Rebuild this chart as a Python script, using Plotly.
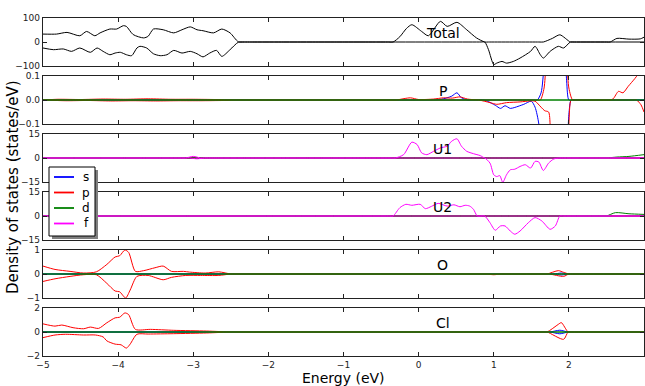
import plotly.graph_objects as go
from plotly.subplots import make_subplots

# ---------------- data (energy in eV, DOS in states/eV) ----------------
zero_e = [-5.0, 3.0]
zero_v = [0.0, 0.0]

# Total DOS
tot_up_e = [-5.0, -4.82, -4.68, -4.51, -4.42, -4.31, -4.24, -4.11, -4.02, -3.93, -3.89, -3.80,
            -3.66, -3.60, -3.53, -3.40, -3.26, -3.15, -3.04, -2.95, -2.87, -2.73, -2.62, -2.51,
            -2.40, -2.30, -2.25, -0.40, -0.34, -0.25, -0.16, -0.09, 0.04, 0.13, 0.29, 0.38,
            0.51, 0.64, 0.77, 0.88, 0.93, 1.60, 1.66, 1.78, 1.88, 2.02, 2.07, 2.50, 2.55, 2.64,
            2.80, 2.95, 3.0]
tot_up_v = [33, 33, 40, 26, 44, 26, 38, 54, 54, 68, 65, 31,
            17, 24, 54, 51, 38, 51, 63, 51, 47, 38, 54, 38,
            1, 0, 0, 0, 0, 22, 57, 72, 44, 26, 86, 65,
            82, 51, 17, 0, 0, 0, 0, 15, 30, 0, 0, 0, 0, 15,
            12, 13, 20]
tot_dn_e = [-5.0, -4.86, -4.73, -4.62, -4.51, -4.37, -4.28, -4.20, -4.11, -4.04, -3.97, -3.89,
            -3.82, -3.75, -3.71, -3.62, -3.53, -3.44, -3.35, -3.26, -3.15, -3.04, -2.95, -2.87,
            -2.78, -2.69, -2.62, -2.51, -2.40, -2.30, -2.25, 0.83, 0.88, 0.93, 1.00, 1.04, 1.11,
            1.17, 1.26, 1.35, 1.49, 1.55, 1.62, 1.66, 1.75, 1.86, 1.93, 2.02, 2.07, 3.0]
tot_dn_v = [-25, -32, -29, -39, -25, -43, -25, -39, -53, -46, -43, -53,
            -57, -25, -18, -25, -49, -57, -53, -35, -46, -39, -49, -62,
            -46, -35, -60, -32, -1, 0, 0, 0, 0, -32, -94, -88, -81,
            -88, -81, -67, -39, -18, -53, -67, -39, -18, -25, 0, 0, 0]

# P site
p_s_up_e = [-5.0, -0.25, -0.2, 0.3, 0.44, 0.51, 0.57, 0.65, 0.70, 1.53, 1.58, 1.63, 1.67, 1.72,
            1.82, 1.93, 1.97, 2.0, 2.05, 3.0]
p_s_up_v = [0, 0, 0, 0.003, 0.016, 0.030, 0.009, 0, 0, 0, 0, 0.03, 0.15, 0.5,
            0.7, 0.4, 0.08, 0, 0, 0]
p_s_dn_e = [-5.0, 0.80, 0.85, 0.91, 1.02, 1.09, 1.15, 1.22, 1.28, 1.40, 1.50, 1.55, 1.60, 1.65,
            1.80, 1.96, 2.0, 2.03, 2.08, 3.0]
p_s_dn_v = [0, 0, 0, -0.004, -0.022, -0.035, -0.024, -0.035, -0.031, -0.018, -0.005, -0.03,
            -0.1, -0.3, -0.5, -0.3, -0.06, 0, 0, 0]
p_p_up_e = [-5.0, -4.8, -4.5, -4.2, -3.9, -3.6, -3.3, -3.0, -2.7, -2.4, -2.35, -0.35, -0.3,
            -0.11, 0.0, 0.2, 0.33, 0.45, 0.55, 0.65, 0.8, 0.85, 1.57, 1.62, 1.67, 1.72, 1.85,
            1.95, 2.0, 2.05, 2.10, 2.50, 2.55, 2.59, 2.66, 2.72, 2.79, 2.88, 2.95, 3.0]
p_p_up_v = [0, 0.003, 0.002, 0.004, 0.003, 0.005, 0.003, 0.003, 0.002, 0, 0, 0, 0,
            0.009, 0.002, 0.004, 0.009, 0.008, 0.013, 0.004, 0, 0, 0, 0, 0.05, 0.3, 0.6,
            0.3, 0.05, 0, 0, 0, 0, 0.005, 0.036, 0.030, 0.057, 0.09, 0.12, 0.15]
p_p_dn_e = [-5.0, -4.7, -4.4, -4.1, -3.8, -3.5, -3.2, -2.9, -2.6, -2.4, -2.35, 0.75, 0.8, 0.95,
            1.04, 1.17, 1.35, 1.48, 1.55, 1.63, 1.68, 1.73, 1.76, 1.85, 1.97, 2.0, 2.03, 2.08,
            2.85, 2.9, 2.96, 3.0]
p_p_dn_v = [0, -0.003, -0.002, -0.004, -0.003, -0.004, -0.003, -0.003, -0.002, 0, 0, 0, 0,
            -0.011, -0.018, -0.011, -0.008, -0.004, -0.005, -0.03, -0.045, -0.05, -0.2, -0.4,
            -0.3, -0.1, 0, 0, 0, 0, -0.02, -0.05]

# U1 site
u1_f_up_e = [-5.0, -3.15, -3.1, -3.0, -2.9, -2.85, -0.36, -0.31, -0.2, -0.09, -0.02, 0.04, 0.11,
             0.2, 0.29, 0.38, 0.44, 0.51, 0.57, 0.64, 0.73, 0.82, 0.88, 0.93, 3.0]
u1_f_up_v = [0, 0, 0, 1.0, 0, 0, 0, 0, 2.1, 9.9, 8.4, 3.2, 2.1,
             4.2, 6.3, 7.4, 10.5, 12.0, 7.4, 4.2, 2.7, 1.5, 0, 0, 0]
u1_f_dn_e = [-5.0, -3.1, -3.05, -2.95, -2.85, -2.8, 0.83, 0.88, 0.95, 1.0, 1.04, 1.08, 1.12,
             1.17, 1.22, 1.28, 1.35, 1.42, 1.49, 1.55, 1.60, 1.66, 1.73, 1.80, 1.88, 1.93, 3.0]
u1_f_dn_v = [0, 0, 0, -0.5, 0, 0, 0, 0, -3.2, -10.5, -11.6, -11.0, -15.2,
             -10.5, -7.4, -7.0, -5.3, -4.2, -6.3, -2.1, -2.5, -7.8, -3.2, -0.6, 0, 0, 0]
u1_d_up_e = [-5.0, 2.45, 2.5, 2.64, 2.8, 3.0]
u1_d_up_v = [0, 0, 0, 0.6, 1.0, 2.1]

# U2 site
u2_f_up_e = [-5.0, -0.39, -0.34, -0.25, -0.17, -0.09, 0.02, 0.09, 0.17, 0.26, 0.38, 0.47, 0.55,
             0.62, 0.68, 0.73, 0.78, 0.83, 3.0]
u2_f_up_v = [0, 0, 0, 5.2, 7.3, 6.7, 7.3, 4.6, 6.0, 7.9, 6.2, 7.0, 5.8,
             6.7, 6.2, 4.2, 0, 0, 0]
u2_f_dn_e = [-5.0, 0.83, 0.88, 0.95, 1.02, 1.09, 1.15, 1.22, 1.28, 1.35, 1.46, 1.55, 1.64,
             1.75, 1.82, 1.88, 1.93, 3.0]
u2_f_dn_v = [0, 0, 0, -4.2, -8.9, -6.2, -6.2, -9.4, -11.4, -9.4, -4.2, -1.0, -3.1,
             -8.3, -6.2, 0, 0, 0]
u2_d_up_e = [-5.0, 2.45, 2.5, 2.62, 2.8, 3.0]
u2_d_up_v = [0, 0, 0, 2.1, 1.4, 1.0]

# O site
o_p_up_e = [-5.0, -4.84, -4.64, -4.46, -4.29, -4.15, -4.04, -3.98, -3.91, -3.86, -3.77, -3.66,
            -3.51, -3.40, -3.29, -3.13, -3.05, -2.84, -2.66, -2.5, -2.45, 0.15, 0.2, 0.3, 0.4,
            0.45, 1.66, 1.71, 1.86, 1.93, 2.0, 2.05, 3.0]
o_p_up_v = [0.33, 0.19, 0.11, 0.04, 0.09, 0.40, 0.71, 0.76, 1.0, 0.9, 0.11, 0.14,
            0.26, 0.33, 0.11, 0.11, 0.08, 0.04, 0.09, 0, 0, 0, 0, 0.02, 0,
            0, 0, 0, 0.14, 0.07, 0, 0, 0]
o_p_dn_e = [-5.0, -4.84, -4.64, -4.46, -4.29, -4.15, -4.04, -3.98, -3.90, -3.84, -3.75, -3.6,
            -3.4, -3.29, -3.1, -2.9, -2.66, -2.5, -2.45, 0.85, 0.9, 1.0, 1.1, 1.15, 1.69, 1.74,
            1.93, 2.0, 2.05, 3.0]
o_p_dn_v = [-0.31, -0.2, -0.1, -0.03, -0.03, -0.39, -0.71, -0.74, -1.0, -0.67, -0.1, -0.06,
            -0.24, -0.14, -0.06, -0.06, -0.06, 0, 0, 0, 0, -0.03, 0, 0, 0, 0,
            -0.1, 0, 0, 0]
o_s_up_e = [-5.0, 1.75, 1.8, 1.9, 2.0, 2.05, 3.0]
o_s_up_v = [0, 0, 0, 0.04, 0, 0, 0]
o_s_dn_e = [-5.0, 1.75, 1.8, 1.9, 2.0, 2.05, 3.0]
o_s_dn_v = [0, 0, 0, -0.04, 0, 0, 0]

# Cl site
cl_p_up_e = [-5.0, -4.84, -4.75, -4.60, -4.46, -4.37, -4.26, -4.15, -4.04, -3.98, -3.91, -3.86,
             -3.77, -3.57, -3.26, -2.82, -2.5, -2.45, 1.66, 1.71, 1.86, 1.90, 1.99, 2.04, 3.0]
cl_p_up_v = [0.68, 0.49, 0.58, 0.36, 0.27, 0.41, 0.30, 0.77, 1.18, 1.23, 1.59, 1.45,
             0.22, 0.22, 0.14, 0.08, 0, 0, 0, 0, 0.64, 0.78, 0, 0, 0]
cl_p_dn_e = [-5.0, -4.84, -4.7, -4.46, -4.3, -4.20, -4.15, -4.04, -3.96, -3.89, -3.84, -3.75,
             -3.6, -3.26, -2.82, -2.5, -2.45, 1.66, 1.71, 1.93, 1.99, 2.04, 3.0]
cl_p_dn_v = [-0.47, -0.25, -0.19, -0.25, -0.25, -0.41, -0.74, -1.01, -1.07, -1.34, -1.01, -0.19,
             -0.17, -0.14, -0.08, 0, 0, 0, 0, -0.61, 0, 0, 0]
cl_s_up_e = [-5.0, 1.70, 1.75, 1.88, 1.99, 2.04, 3.0]
cl_s_up_v = [0, 0, 0, 0.15, 0, 0, 0]
cl_s_dn_e = [-5.0, 1.70, 1.75, 1.88, 1.99, 2.04, 3.0]
cl_s_dn_v = [0, 0, 0, -0.15, 0, 0, 0]

panel_names = ["Total", "P", "U1", "U2", "O", "Cl"]
panel_limits = [100, 0.1, 15, 15, 1, 2]
orbitals = ["s", "p", "d", "f"]
orbital_colors = ["#0000ff", "#ff0000", "#008000", "#ff00ff"]
x_ticks = [-5, -4, -3, -2, -1, 0, 1, 2, 3]

Z = (zero_e, zero_v)
panel_series = {
    "P": [("s", p_s_up_e, p_s_up_v, p_s_dn_e, p_s_dn_v),
          ("p", p_p_up_e, p_p_up_v, p_p_dn_e, p_p_dn_v),
          ("d", *Z, *Z)],
    "U1": [("s", *Z, *Z), ("p", *Z, *Z),
           ("d", u1_d_up_e, u1_d_up_v, *Z),
           ("f", u1_f_up_e, u1_f_up_v, u1_f_dn_e, u1_f_dn_v)],
    "U2": [("s", *Z, *Z), ("p", *Z, *Z),
           ("d", u2_d_up_e, u2_d_up_v, *Z),
           ("f", u2_f_up_e, u2_f_up_v, u2_f_dn_e, u2_f_dn_v)],
    "O": [("s", o_s_up_e, o_s_up_v, o_s_dn_e, o_s_dn_v),
          ("p", o_p_up_e, o_p_up_v, o_p_dn_e, o_p_dn_v),
          ("d", *Z, *Z)],
    "Cl": [("s", cl_s_up_e, cl_s_up_v, cl_s_dn_e, cl_s_dn_v),
           ("p", cl_p_up_e, cl_p_up_v, cl_p_dn_e, cl_p_dn_v),
           ("d", *Z, *Z)],
}

# ---------------- figure ----------------
FONT = "DejaVu Sans"
W, H = 645, 386
ML, MR, MT, MB = 43, 1, 18, 30
fig = make_subplots(rows=6, cols=1, shared_xaxes=True, vertical_spacing=0.0296)

color_of = dict(zip(orbitals, orbital_colors))
line_kw = dict(shape="spline", smoothing=0.7, width=1)

for e, v in ((tot_up_e, tot_up_v), (tot_dn_e, tot_dn_v)):
    fig.add_trace(go.Scatter(x=e, y=v, mode="lines", line=dict(color="black", **line_kw),
                             showlegend=False, hoverinfo="skip"), row=1, col=1)

for i, name in enumerate(panel_names[1:], start=2):
    for orb, ue, uv, de, dv in panel_series[name]:
        c = color_of[orb]
        for e, v in ((ue, uv), (de, dv)):
            fig.add_trace(go.Scatter(x=e, y=v, mode="lines", line=dict(color=c, **line_kw),
                                     showlegend=False, hoverinfo="skip"), row=i, col=1)

axis_common = dict(showline=True, linecolor="#222", linewidth=1.3, mirror="allticks",
                   ticks="inside", ticklen=4, tickwidth=1.3, tickcolor="#222",
                   showgrid=False, zeroline=False, automargin=False,
                   tickfont=dict(family=FONT, size=9, color="#222"))

for i, lim in enumerate(panel_limits, start=1):
    fmt = ".1f" if lim < 1 else "d"
    fig.update_yaxes(range=[-lim, lim], tickvals=[-lim, 0, lim], tickformat=fmt,
                     row=i, col=1, **axis_common)
    fig.update_xaxes(range=[-5, 3], tickvals=x_ticks, showticklabels=(i == 6),
                     row=i, col=1, **axis_common)

for i in range(1, 7):
    ya = fig.layout["yaxis" if i == 1 else f"yaxis{i}"]
    d0, d1 = ya.domain
    xref = "x" if i == 1 else f"x{i}"
    fig.add_annotation(text=panel_names[i - 1], x=0.32, xref=xref,
                       y=d0 + 0.69 * (d1 - d0), yref="paper", yanchor="middle",
                       showarrow=False, font=dict(family=FONT, size=14, color="black"))

fig.add_annotation(text="Density of states (states/eV)", textangle=-90,
                   x=-0.05, xref="paper", y=0.5, yref="paper", showarrow=False,
                   xanchor="center", yanchor="middle",
                   font=dict(family=FONT, size=15, color="black"))
fig.add_annotation(text="Energy (eV)", x=0.5, xref="paper", y=-0.065, yref="paper",
                   showarrow=False, xanchor="center", yanchor="middle",
                   font=dict(family=FONT, size=14, color="black"))

# ---- matplotlib-style legend box (with drop shadow), in pixel-based paper coords ----
PW, PH = W - ML - MR, H - MT - MB
def px(xp):
    return (xp - ML) / PW
def py(yp):
    return (H - MB - yp) / PH

box = (49, 167, 95, 236)
fig.add_shape(type="rect", xref="paper", yref="paper",
              x0=px(box[0] + 3), x1=px(box[2] + 3), y0=py(box[3] + 3), y1=py(box[1] + 3),
              fillcolor="#7f7f7f", line=dict(width=0), layer="above")
fig.add_shape(type="rect", xref="paper", yref="paper",
              x0=px(box[0]), x1=px(box[2]), y0=py(box[3]), y1=py(box[1]),
              fillcolor="white", line=dict(color="black", width=1), layer="above")
for k, (orb, c) in enumerate(zip(orbitals, orbital_colors)):
    yy = 177 + k * 15.5
    fig.add_shape(type="line", xref="paper", yref="paper",
                  x0=px(54), x1=px(74), y0=py(yy), y1=py(yy),
                  line=dict(color=c, width=1.8), layer="above")
    fig.add_annotation(text=orb, x=px(86), y=py(yy), xref="paper", yref="paper",
                       showarrow=False, xanchor="center", yanchor="middle",
                       font=dict(family=FONT, size=12, color="black"))

fig.update_layout(
    width=W, height=H,
    margin=dict(l=ML, r=MR, t=MT, b=MB),
    paper_bgcolor="white", plot_bgcolor="white",
    font=dict(family=FONT, color="black"),
    showlegend=False,
)

fig.write_html("out.html", config={"displayModeBar": False},
               post_script="document.body.style.margin='0';document.body.style.overflow='hidden';")
